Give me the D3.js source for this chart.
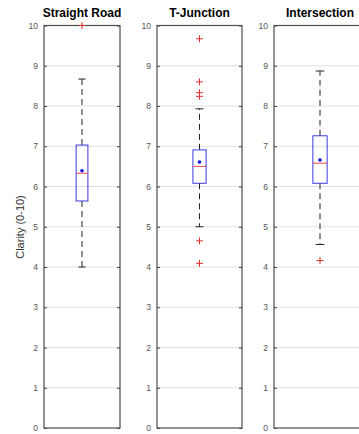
<!DOCTYPE html>
<html><head><meta charset="utf-8">
<script src="https://cdn.jsdelivr.net/npm/d3@7"></script>
<style>body{margin:0;background:#fff;}svg{display:block;font-family:Arial,"Liberation Sans",sans-serif;}</style>
</head><body>
<svg id="chart" width="359" height="434"></svg>
<script>
const categories = ["Straight Road", "T-Junction", "Intersection"];
const whiskerLow = [4.0, 5.0, 4.56];
const q1 = [5.64, 6.08, 6.08];
const median = [6.33, 6.5, 6.58];
const q3 = [7.03, 6.91, 7.26];
const whiskerHigh = [8.67, 7.93, 8.87];
const means = [6.39, 6.61, 6.66];
const outliers = [[10.0], [9.67, 8.6, 8.33, 8.24, 4.65, 4.09], [4.16]];
const yTicks = [0,1,2,3,4,5,6,7,8,9,10];
const yLabel = "Clarity (0-10)";

const panels = [[44,120],[157,242],[274,366]];
const plotTop = 25.5, plotBottom = 428;
const svg = d3.select("#chart");
const y = d3.scaleLinear().domain([0,10]).range([plotBottom, plotTop]);

categories.forEach((cat, i) => {
  const [x0, x1] = panels[i];
  const x = d3.scaleLinear().domain([0,1]).range([x0, x1]);
  const g = svg.append("g");
  // grid
  g.selectAll("line.grid").data(yTicks.slice(1,-1)).enter().append("line")
    .attr("x1", x0).attr("x2", x1).attr("y1", d=>y(d)).attr("y2", d=>y(d))
    .attr("stroke", "#e0e0e0").attr("stroke-width", 1);
  // left axis
  const ax = g.append("g").attr("transform", `translate(${x0},0)`)
    .call(d3.axisLeft(y).tickValues(yTicks).tickSize(-3).tickPadding(6).tickFormat(d3.format("d")));
  ax.select(".domain").remove();
  ax.selectAll("line").attr("stroke", "#404040");
  ax.selectAll("text").attr("fill", "#555").style("font-size", "8.5px");
  const axr = g.append("g").attr("transform", `translate(${x1},0)`)
    .call(d3.axisRight(y).tickValues(yTicks).tickSize(-3).tickFormat(""));
  axr.select(".domain").remove();
  axr.selectAll("line").attr("stroke", "#404040");
  // frame
  g.append("rect").attr("x", x0).attr("y", plotTop).attr("width", x1-x0).attr("height", plotBottom-plotTop)
    .attr("fill", "none").attr("stroke", "#4d4d4d").attr("stroke-width", 1.2);
  const cx = x(0.5);
  const bw = (x1-x0)*0.155;
  // whiskers
  g.append("line").attr("x1", cx).attr("x2", cx).attr("y1", y(q3[i])).attr("y2", y(whiskerHigh[i]))
    .attr("stroke", "#222").attr("stroke-dasharray", "6,4");
  g.append("line").attr("x1", cx).attr("x2", cx).attr("y1", y(q1[i])).attr("y2", y(whiskerLow[i]))
    .attr("stroke", "#222").attr("stroke-dasharray", "6,4");
  [whiskerHigh[i], whiskerLow[i]].forEach(v => {
    g.append("line").attr("x1", cx-bw*0.3).attr("x2", cx+bw*0.3).attr("y1", y(v)).attr("y2", y(v))
      .attr("stroke", "#222").attr("stroke-width", 1);
  });
  // box
  g.append("rect").attr("x", cx-bw/2).attr("y", y(q3[i])).attr("width", bw).attr("height", y(q1[i])-y(q3[i]))
    .attr("fill", "none").attr("stroke", "#3a3adf").attr("stroke-width", 1);
  g.append("line").attr("x1", cx-bw/2).attr("x2", cx+bw/2).attr("y1", y(median[i])).attr("y2", y(median[i]))
    .attr("stroke", "#e8474a").attr("stroke-width", 1);
  g.append("circle").attr("cx", cx).attr("cy", y(means[i])).attr("r", 1.8).attr("fill", "#1010e0");
  // outliers
  outliers[i].forEach(v => {
    g.append("path").attr("d", `M${cx-3.5},${y(v)}H${cx+3.5}M${cx},${y(v)-3.5}V${y(v)+3.5}`)
      .attr("stroke", "#e03030").attr("stroke-width", 1);
  });
  // title
  svg.append("text").attr("x", (x0+x1)/2).attr("y", 17).attr("text-anchor", "middle")
    .style("font-size", "12px").style("font-weight", "bold").attr("fill", "#000").text(cat);
});

svg.append("text").attr("transform", "translate(24,227) rotate(-90)").attr("text-anchor", "middle")
  .style("font-size", "11px").attr("fill", "#333").text(yLabel);
</script>
</body></html>
